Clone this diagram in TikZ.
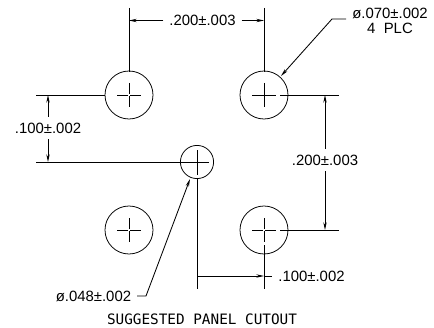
\documentclass[tikz,border=0pt]{standalone}
\usepackage{fontspec}
\setmainfont{Liberation Sans}
\newfontfamily\cadfont{DejaVu Sans Mono}
\usetikzlibrary{arrows.meta}
\tikzset{
	hole/.style={draw, circle, inner sep=0pt, line width=0.55pt},
	dimtext/.style={inner sep=4pt, font=\fontsize{10.6}{12}\selectfont},
	dimline/.style={line width=0.6pt, -{Stealth[length=5.5pt, width=2.4pt]}},
	extline/.style={line width=0.7pt},
	markline/.style={line width=0.55pt}
}
\begin{document}
\begin{tikzpicture}[x=0.025cm, y=-0.025cm]
	\useasboundingbox (0,0) rectangle (434,328);
	\foreach \name/\x/\y/\gap in {holetl/129/95/1, holetr/264/95/0, holebl/129/230/1, holebr/264/230/1}
	{
		\node[hole, minimum size=1.2cm] (\name) at (\x,\y) {};
		\draw[markline] (\x-12,\y) -- (\x-\gap,\y) (\x+\gap,\y) -- (\x+12,\y);
		\draw[markline] (\x,\y-12) -- (\x,\y-\gap) (\x,\y+\gap) -- (\x,\y+12);
	}
	\node[hole, minimum size=0.83cm] (holec) at (197,162) {};

	\coordinate (exttl) at (129,8);
	\coordinate (exttr) at (264,8);
	\coordinate (tlend) at (36,95);
	\coordinate (cend) at (36,162);
	\coordinate (crossr) at (209,162);
	\coordinate (ctop) at (197,150);
	\coordinate (cbot) at (197,289);
	\coordinate (trend) at (339,95);
	\coordinate (brend) at (339,230);
	\draw[extline] (exttl) -- (129,72);
	\draw[extline] (exttr) -- (264,72);
	\draw[extline] (tlend) -- (105,95);
	\draw[extline] (cend) -- (crossr);
	\draw[extline] (ctop) -- (197,175) (197,178) -- (cbot);
	\draw[extline] (280,95) -- (trend);
	\draw[extline] (280,230) -- (brend);
	\draw[extline] (264,245) -- (264,289);

	\node[dimtext] (dimtop) at (202.5,20.5) {.200±.003};
	\draw[dimline] (dimtop.west) -- (129,20.5);
	\draw[dimline] (dimtop.east) -- (264,20.5);

	\node[dimtext] (dimleft) at (48,128) {.100±.002};
	\draw[dimline] (dimleft.north -| 48,128) -- (48,95);
	\draw[dimline] (dimleft.south -| 48,128) -- (48,162);

	\node[dimtext] (dimright) at (325,160) {.200±.003};
	\draw[dimline] (dimright.north) -- (325,95);
	\draw[dimline] (dimright.south) -- (325,230);

	\node[dimtext, anchor=west] (dimbot) at (272.5,276) {.100±.002};
	\draw[dimline] (197,276) -- (264,276);
	\draw[extline] (264,276) -- (272,276);

	\node[dimtext] (dialarge) at (390,13) {ø.070±.002};
	\node[dimtext] (plc) at (390,28) {4\ \ PLC};
	\draw[dimline] (346,19) -- (332,19) -- (281,76);

	\node[dimtext, anchor=east] (diasmall) at (137,296) {ø.048±.002};
	\draw[dimline] (diasmall.east) -- (146,296) -- (190,179);

	\node[font=\cadfont\fontsize{10.2}{12}\selectfont] (caption) at (202,319) {SUGGESTED PANEL CUTOUT};
\end{tikzpicture}
\end{document}
